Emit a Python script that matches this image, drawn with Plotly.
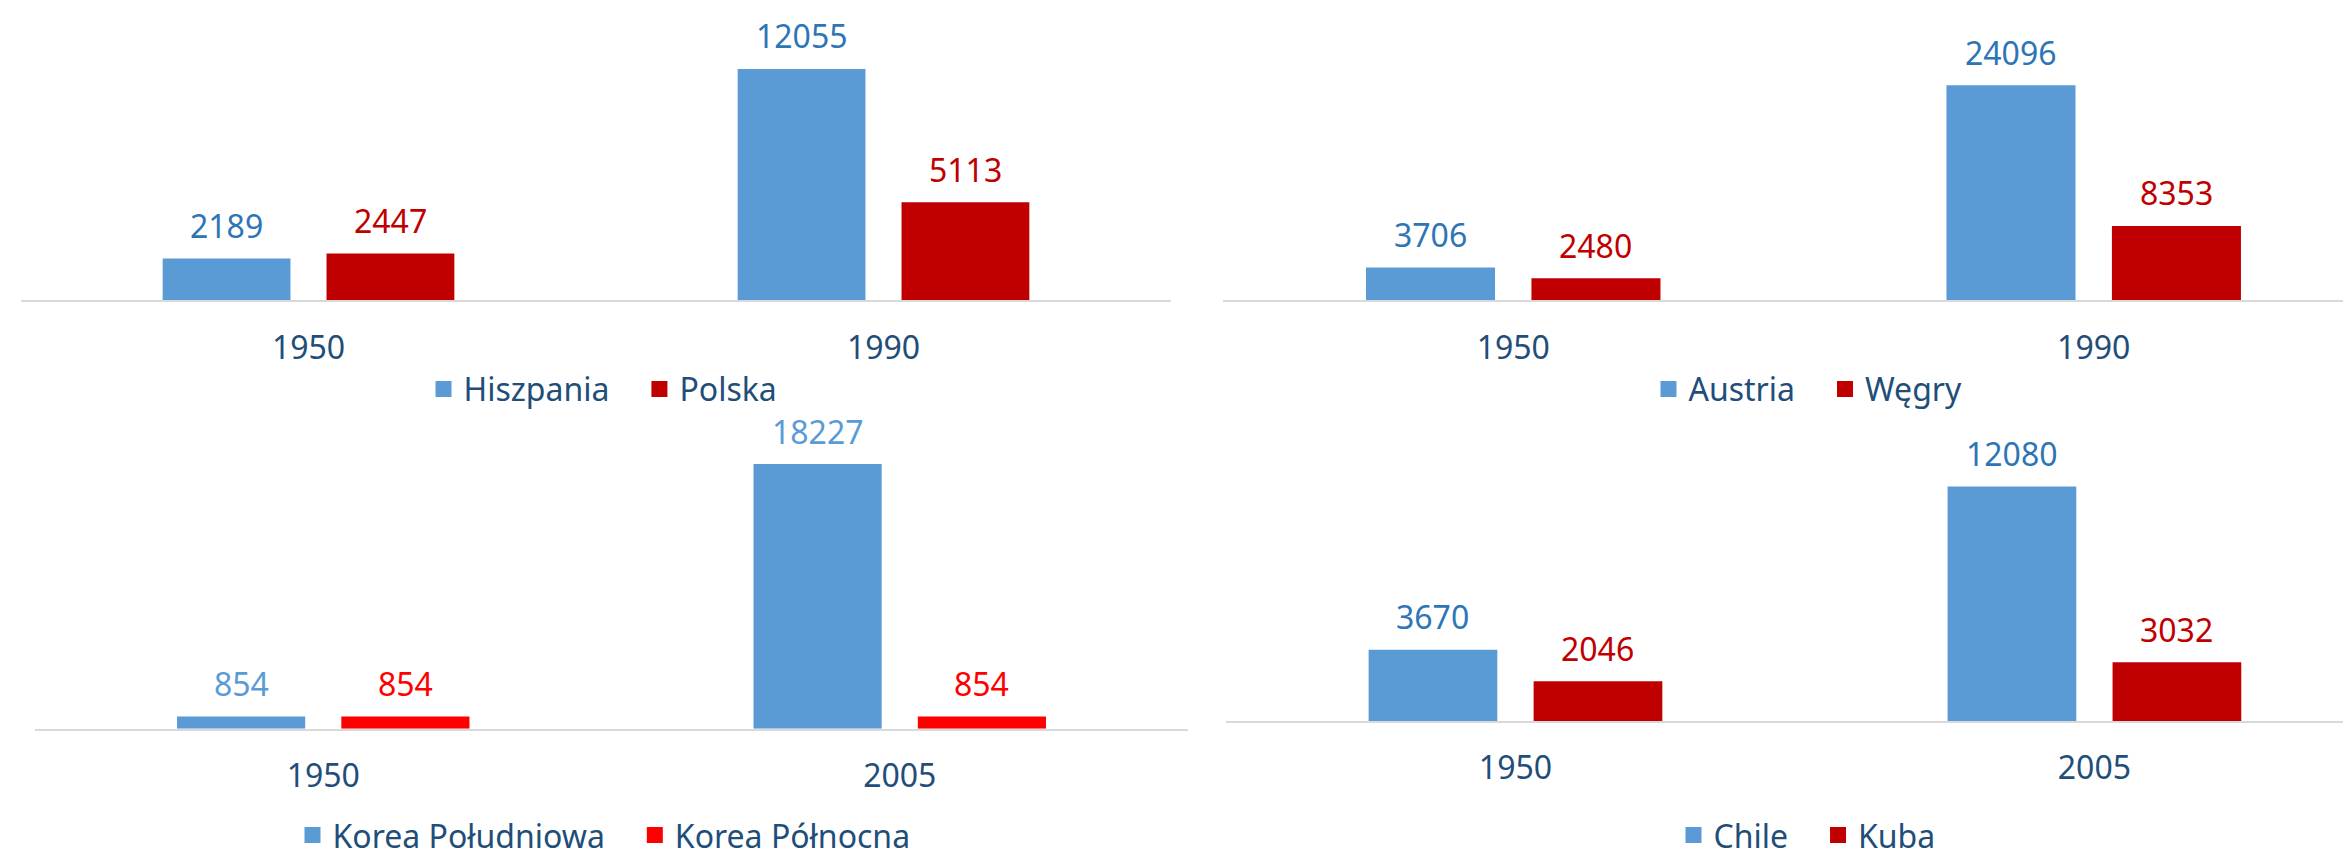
import plotly.graph_objects as go

# dane
lata_1 = ['1950', '1990']
lata_2 = ['1950', '2005']

hiszpania = [2189, 12055]
polska = [2447, 5113]
austria = [3706, 24096]
wegry = [2480, 8353]
korea_pld = [854, 18227]
korea_pln = [854, 854]
chile = [3670, 12080]
kuba = [2046, 3032]

W, H = 2351, 855
FONT = 'Noto Sans'
NIEBIESKI = '#5B9BD5'
CIEMNOCZERWONY = '#C00000'
CZERWONY = '#FF0000'
GRANAT = '#1F4E79'
BARGAP = 0.43
ODSTEP = '\u00a0\u00a0\u00a0'  # wiekszy odstep miedzy wpisami legendy

# panel: (lata, seria1, seria2, kolory, kolory etykiet, domena x px, domena y px, max y, max x, srodek legendy px)
panele = [
    (lata_1, ('Hiszpania', hiszpania), ('Polska', polska), (NIEBIESKI, CIEMNOCZERWONY), ('#2E75B6', CIEMNOCZERWONY),
     (13, 1163), (24, 297), 14000, 1.5, (595, 387)),
    (lata_1, ('Austria', austria), ('Węgry', wegry), (NIEBIESKI, CIEMNOCZERWONY), ('#2E75B6', CIEMNOCZERWONY),
     (1215, 2351), (25, 297), 30000, 1.457, (1800, 387)),
    (lata_2, ('Korea Południowa', korea_pld), ('Korea Północna', korea_pln), (NIEBIESKI, CZERWONY), (NIEBIESKI, CZERWONY),
     (27, 1180), (437, 732), 20000, 1.5, (596, 840)),
    (lata_2, ('Chile', chile), ('Kuba', kuba), (NIEBIESKI, CIEMNOCZERWONY), ('#2E75B6', CIEMNOCZERWONY),
     (1218, 2351), (448, 724), 14000, 1.457, (1799, 840)),
]


def px_x(x):
    return x / W


def px_y(y):
    return 1 - y / H


fig = go.Figure()
adnotacje = []

for n, (lata, s1, s2, kolory, kol_etykiet, dx, dy, ymax, xmax, leg) in enumerate(panele, start=1):
    suf = '' if n == 1 else str(n)
    for k, ((nazwa, wartosci), kolor, kol_et) in enumerate(zip((s1, s2), kolory, kol_etykiet)):
        fig.add_trace(go.Bar(x=lata, y=wartosci, name=nazwa, marker=dict(color=kolor, line=dict(width=0)),
                             xaxis='x' + suf, yaxis='y' + suf, legend='legend' + suf,
                             showlegend=False, hoverinfo='skip'))
        # wpis legendy jako wiekszy kwadrat
        fig.add_trace(go.Scatter(x=[None], y=[None], mode='markers', name=nazwa + (ODSTEP if k == 0 else ''),
                                 marker=dict(symbol='square', size=20, color=kolor),
                                 xaxis='x' + suf, yaxis='y' + suf, legend='legend' + suf))
        przes = (1 - BARGAP) / 4 * (-1 if k == 0 else 1)
        for i, v in enumerate(wartosci):
            adnotacje.append(dict(x=i + przes, y=v, xref='x' + suf, yref='y' + suf, text=str(v),
                                  showarrow=False, yanchor='middle', yshift=33,
                                  font=dict(family=FONT, size=32, color=kol_et)))

    fig.layout['xaxis' + suf] = dict(domain=[px_x(dx[0]), px_x(dx[1])], anchor='y' + suf, type='category',
                                    range=[-0.5, xmax], showline=True, linecolor='#D9D9D9', linewidth=2,
                                    showgrid=False, zeroline=False, ticks='', ticklabelstandoff=18,
                                    tickfont=dict(family=FONT, size=32, color=GRANAT), fixedrange=True)
    fig.layout['yaxis' + suf] = dict(domain=[px_y(dy[1]), px_y(dy[0])], anchor='x' + suf, range=[0, ymax],
                                    visible=False, showgrid=False, zeroline=False, fixedrange=True)
    fig.layout['legend' + suf] = dict(orientation='h', x=px_x(leg[0]), y=px_y(leg[1]), xanchor='center',
                                     yanchor='middle', font=dict(family=FONT, size=32, color=GRANAT),
                                     bgcolor='rgba(0,0,0,0)', itemclick=False, itemdoubleclick=False)

fig.update_layout(width=W, height=H, margin=dict(l=0, r=0, t=0, b=0), barmode='group',
                  bargap=BARGAP, bargroupgap=0.22, plot_bgcolor='white', paper_bgcolor='white',
                  annotations=adnotacje, showlegend=True)

fig.write_html('out.html')
